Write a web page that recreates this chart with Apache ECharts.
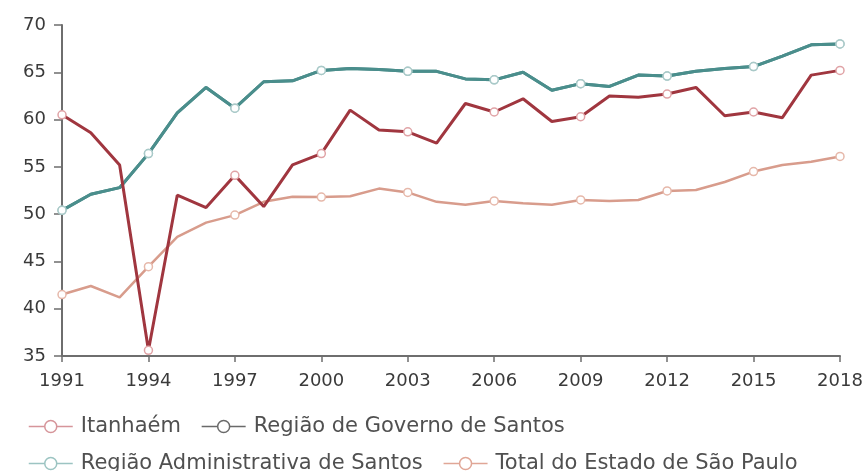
<!DOCTYPE html>
<html>
<head>
<meta charset="utf-8">
<script src="https://cdn.jsdelivr.net/npm/echarts@6/dist/echarts.min.js"></script>
<style>html,body{margin:0;padding:0;background:#fff}#c{width:866px;height:471px}</style>
</head>
<body>
<div id="c"></div>
<script>
const years = [];
for (let y = 1991; y <= 2018; y++) years.push(String(y));
const itanhaem = [60.5,58.6,55.2,35.6,52.0,50.7,54.1,50.8,55.2,56.4,61.0,58.9,58.7,57.5,61.7,60.8,62.2,59.8,60.3,62.5,62.35,62.7,63.4,60.4,60.8,60.2,64.7,65.2];
const governo = [50.4,52.1,52.8,56.4,60.7,63.4,61.2,64.0,64.1,65.2,65.4,65.3,65.1,65.1,64.3,64.2,65.0,63.1,63.8,63.5,64.7,64.6,65.1,65.4,65.6,66.7,67.9,68.0];
const administrativa = [50.4,52.1,52.8,56.4,60.7,63.4,61.2,64.0,64.1,65.2,65.4,65.3,65.1,65.1,64.3,64.2,65.0,63.1,63.8,63.5,64.7,64.6,65.1,65.4,65.6,66.7,67.9,68.0];
const totalSP = [41.5,42.4,41.2,44.45,47.6,49.1,49.9,51.3,51.85,51.8,51.9,52.7,52.3,51.3,51.0,51.4,51.15,51.0,51.5,51.4,51.5,52.45,52.55,53.4,54.5,55.2,55.55,56.1];
const seriesNames = ['Itanhaém','Região de Governo de Santos','Região Administrativa de Santos','Total do Estado de São Paulo'];

const FONT = 'DejaVu Sans';
function withMarkers(vals){
  return vals.map((v,i)=> (i%3===0) ? {value:v} : {value:v, symbol:'none'});
}
function mk(name, vals, color, border, width){
  return {
    name, type:'line', data: withMarkers(vals),
    symbol:'circle', symbolSize:8, showAllSymbol:true,
    lineStyle:{color, width},
    itemStyle:{color:'#fff', borderColor:border, borderWidth:1.5},
    emphasis:{disabled:true}, animation:false
  };
}
function legItem(name, c){
  return {name, itemStyle:{color:'#fff', borderColor:c, borderWidth:1.5}, lineStyle:{color:c, width:1.5}};
}
function legend(top, items){
  return {
    left:28, top, padding:0, itemGap:20, itemWidth:44, itemHeight:15,
    textStyle:{color:'#505050', fontSize:21, fontFamily:FONT, padding:[0,0,0,3]},
    data:items
  };
}
const chart = echarts.init(document.getElementById('c'));
chart.setOption({
  animation:false,
  grid:{left:62, right:26, top:25, bottom:115, containLabel:false},
  xAxis:{
    type:'category', data:years, boundaryGap:false,
    axisLine:{lineStyle:{color:'#6e6e6e', width:2}},
    axisTick:{show:true, interval:(i)=>i%3===0, length:6, lineStyle:{color:'#6e6e6e', width:1.5}},
    axisLabel:{interval:(i)=>i%3===0, color:'#3a3a3a', fontSize:18, fontFamily:FONT, margin:16},
    splitLine:{show:false}
  },
  yAxis:{
    type:'value', min:35, max:70, interval:5,
    axisLine:{show:true, lineStyle:{color:'#6e6e6e', width:2}},
    axisTick:{show:true, length:8, lineStyle:{color:'#6e6e6e', width:1.5}},
    axisLabel:{color:'#3a3a3a', fontSize:18, fontFamily:FONT, margin:16},
    splitLine:{show:false}
  },
  legend:[
    legend(416, [legItem(seriesNames[0], '#d6959a'), legItem(seriesNames[1], '#6a6a6a')]),
    legend(453, [legItem(seriesNames[2], '#9cc4c2'), legItem(seriesNames[3], '#e0a696')])
  ],
  series:[
    mk(seriesNames[1], governo, '#4d8a88', '#a9c9c8', 3),
    mk(seriesNames[2], administrativa, '#4a8e8c', '#a9c9c8', 3),
    mk(seriesNames[3], totalSP, '#d89c8c', '#e6b8aa', 2.5),
    mk(seriesNames[0], itanhaem, '#a0363f', '#e0a3a6', 3)
  ]
});
</script>
</body>
</html>
